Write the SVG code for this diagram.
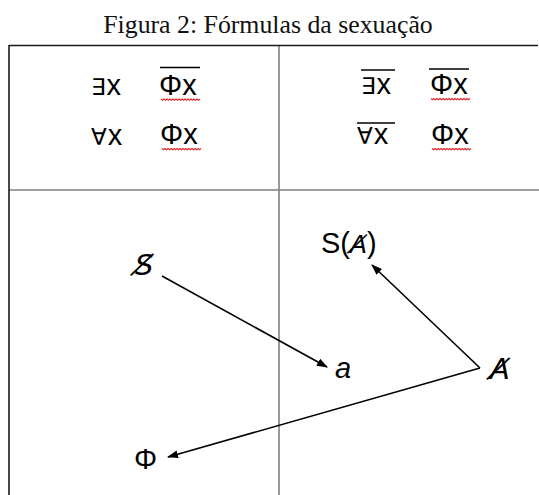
<svg xmlns="http://www.w3.org/2000/svg" width="539" height="495" viewBox="0 0 539 495">
<style>
.t{font-family:"Liberation Sans","DejaVu Sans",sans-serif;font-size:29px;fill:#000}
.q{font-family:"DejaVu Sans",sans-serif;font-size:23px}
.d{font-family:"DejaVu Sans",sans-serif}
.i{font-style:italic}
.ttl{font-family:"Liberation Serif","DejaVu Serif",serif;font-size:25.8px;fill:#111}
.ov{stroke:#000;stroke-width:1.6}
.wv{fill:none;stroke:#e02828;stroke-width:1.2}
.ar{stroke:#000;stroke-width:1.6;fill:none;marker-end:url(#ah)}
.dk{stroke:#1a1a1a;stroke-width:1.6}
.gr{stroke:#808080;stroke-width:1.6}
</style>
<defs>
<marker id="ah" viewBox="0 0 11 8" refX="10" refY="4" markerWidth="11" markerHeight="8" markerUnits="userSpaceOnUse" orient="auto">
<path d="M0,0 L11,4 L0,8 Z" fill="#000"/>
</marker>
<path id="wave" d="M0,0 l1.5,1.3 l1.5,-1.3 l1.5,1.3 l1.5,-1.3 l1.5,1.3 l1.5,-1.3 l1.5,1.3 l1.5,-1.3 l1.5,1.3 l1.5,-1.3 l1.5,1.3 l1.5,-1.3 l1.5,1.3 l1.5,-1.3 l1.5,1.3 l1.5,-1.3 l1.5,1.3 l1.5,-1.3 l1.5,1.3 l1.5,-1.3 l1.5,1.3 l1.5,-1.3 l1.5,1.3 l1.5,-1.3 l1.5,1.3 l1.5,-1.3"/>
</defs>
<rect width="539" height="495" fill="#fff"/>
<text class="ttl" x="268" y="33" text-anchor="middle">Figura 2: Fórmulas da sexuação</text>
<g id="table">
<line class="gr" x1="9" y1="190" x2="539" y2="190"/>
<line class="gr" x1="279" y1="45" x2="279" y2="495"/>
<line class="dk" x1="9" y1="45.5" x2="538" y2="45.5"/>
<line class="dk" x1="9" y1="45" x2="9" y2="495"/>
</g>
<g id="cell-tl">
<text class="t" x="91" y="95"><tspan class="q">∃</tspan><tspan dx="1">x</tspan></text>
<text class="t" x="159" y="95">Φx</text>
<line class="ov" x1="160" y1="67.5" x2="200" y2="67.5"/>
<use href="#wave" class="wv" x="161" y="99"/>
<text class="t" x="91" y="145"><tspan class="q">∀</tspan><tspan dx="1">x</tspan></text>
<text class="t" x="160" y="144">Φx</text>
<use href="#wave" class="wv" x="162" y="148.5"/>
</g>
<g id="cell-tr">
<text class="t" x="361" y="94"><tspan class="q">∃</tspan><tspan dx="1">x</tspan></text>
<line class="ov" x1="361" y1="70" x2="395" y2="70"/>
<text class="t" x="430" y="94">Φx</text>
<line class="ov" x1="429" y1="69" x2="469" y2="69"/>
<use href="#wave" class="wv" x="431" y="98.5"/>
<text class="t" x="357" y="144"><tspan class="q">∀</tspan><tspan dx="1">x</tspan></text>
<line class="ov" x1="357" y1="123" x2="395" y2="123"/>
<text class="t" x="431" y="144">Φx</text>
<use href="#wave" class="wv" x="432" y="148.5"/>
</g>
<g id="node-S"><text class="t d i" x="135" y="275" font-size="27">S̸</text></g>
<g id="node-a"><text class="t i" x="335" y="378">a</text></g>
<g id="node-SA"><text class="t" x="321" y="253" font-size="27">S(<tspan class="d i" font-size="25">A̸</tspan>)</text></g>
<g id="node-A"><text class="t d i" x="490" y="379" font-size="25">A̸</text></g>
<g id="node-Phi"><text class="t" x="134" y="469" font-size="26">Φ</text></g>
<g id="connectors">
<line class="ar" x1="162" y1="276" x2="327" y2="367"/>
<line class="ar" x1="480" y1="368" x2="372" y2="265"/>
<line class="ar" x1="480" y1="368" x2="168" y2="457"/>
</g>
</svg>
